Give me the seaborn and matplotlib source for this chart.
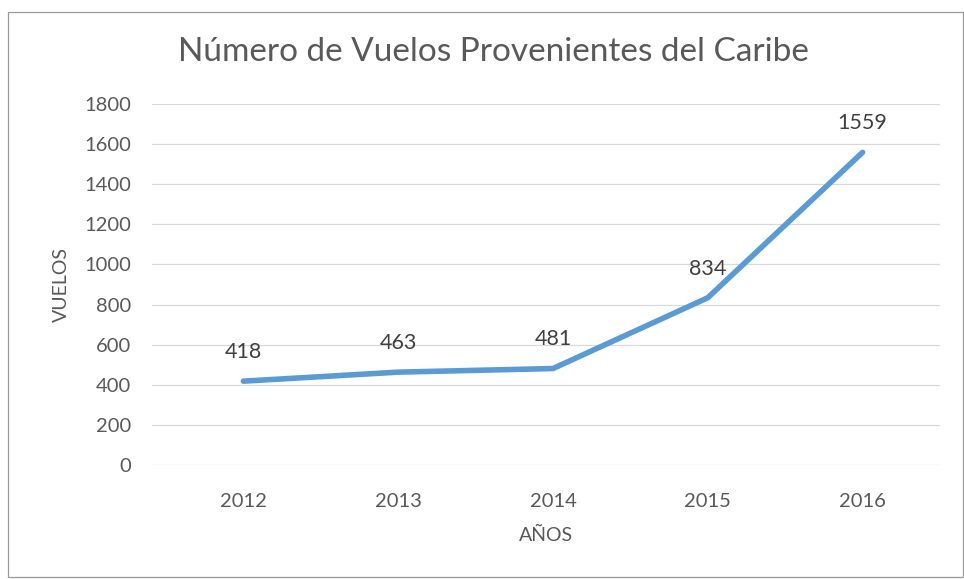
import pandas as pd
import matplotlib.pyplot as plt
import seaborn as sns
from matplotlib.patches import Rectangle

# Datos del gráfico
anios = ["2012", "2013", "2014", "2015", "2016"]
vuelos = [418, 463, 481, 834, 1559]

df = pd.DataFrame({"anio": anios, "vuelos": vuelos})

sns.set_theme(style="white")
plt.rcParams['font.family'] = ['Lato', 'DejaVu Sans']

gris = "#595959"
fig = plt.figure(figsize=(9.64, 5.79), dpi=100)
ax = fig.add_axes([152 / 964, 1 - 465 / 579, (940 - 152) / 964, (465 - 104) / 579])

sns.lineplot(data=df, x="anio", y="vuelos", ax=ax, color="#5B9BD5", linewidth=4,
             solid_capstyle="round", solid_joinstyle="round")

# Etiquetas de datos encima de cada punto
for i, v in enumerate(vuelos):
    ax.annotate(str(v), (i, v), xytext=(0, 21), textcoords="offset points",
                ha="center", va="center", fontsize=15.5, color="#404040")

ax.set_ylim(0, 1800)
ax.set_yticks(range(0, 1801, 200))
ax.set_xlim(-0.59, 4.5)
ax.grid(axis="y", color="#d9d9d9", linewidth=0.9)
ax.set_axisbelow(True)
for s in ax.spines.values():
    s.set_visible(False)
ax.tick_params(axis="y", length=0, pad=15, labelsize=14.5, labelcolor=gris)
ax.tick_params(axis="x", length=0, pad=20, labelsize=14.5, labelcolor=gris)

ax.set_xlabel("AÑOS", fontsize=14, color=gris, labelpad=12)
ax.set_ylabel("VUELOS", fontsize=14, color=gris, labelpad=10)

fig.text(493 / 964, 1 - 52 / 579, "Número de Vuelos Provenientes del Caribe",
         ha="center", va="center", fontsize=24, color=gris)

# Borde del área del gráfico
fig.patches.append(Rectangle((8 / 964, 2 / 579), 955 / 964, 565 / 579,
                             transform=fig.transFigure, fill=False,
                             edgecolor="#9a9a9a", linewidth=0.9))

fig.savefig("out.png", dpi=100)
